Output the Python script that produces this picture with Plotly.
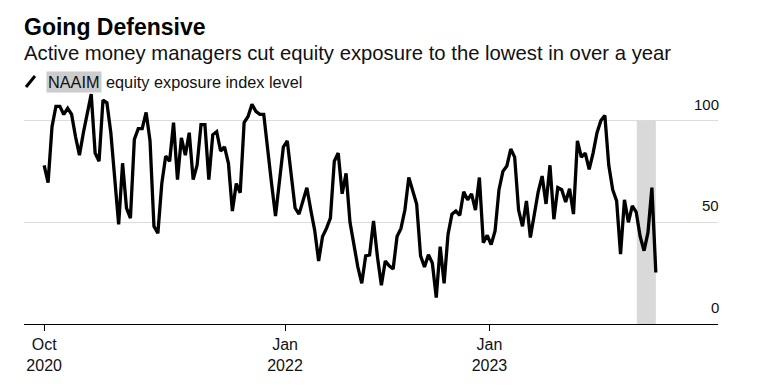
import pandas as pd
import plotly.graph_objects as go

# ---- data (weekly NAAIM exposure index readings) ----
start_date = "2020-10-28"
naaim_values = [
    78, 69.5, 97, 107, 107, 103, 106, 103, 92, 83,
    94, 104, 113, 84, 80, 110, 108.7, 94, 71, 49,
    79, 57, 52, 90.7, 96, 96, 104, 90, 48, 44.6,
    69, 82.5, 80, 99, 71, 91.5, 83, 94, 71, 78,
    98, 98, 71, 93, 94.5, 85, 87, 79, 55.5, 69,
    64.5, 99, 102, 108, 104.5, 103, 103, 85, 69, 53,
    70, 87, 90, 74, 57, 54, 60, 67, 56, 46,
    31, 43, 47, 52, 80, 84, 64, 74, 50, 38,
    28, 20, 33.5, 34, 50.6, 33, 19, 31, 28.6, 27,
    43, 47, 56, 72, 65, 59, 33.5, 28, 34, 30,
    13, 38, 20, 44, 54, 55.5, 53.4, 65, 61, 64,
    56, 72, 40, 43.6, 39, 45.7, 66, 75, 77.6, 86,
    82, 56, 48, 60.5, 42.5, 54, 65, 72.7, 59, 78,
    51.5, 67, 66, 60, 66.5, 54, 90, 82, 84, 76,
    84, 94, 100, 102.5, 78, 66, 60.5, 34.3, 61, 50,
    58, 55, 43, 36, 45, 67, 25.3,
]
dates = pd.date_range(start=start_date, periods=len(naaim_values), freq="7D")

tick_dates = ["2020-10-28", "2022-01-01", "2023-01-01"]
tick_labels = ["Oct<br>2020", "Jan<br>2022", "Jan<br>2023"]
y_ticks = [0, 50, 100]
y_tick_labels = ["0", "50", "100"]

highlight_start = "2023-09-21"
highlight_end = dates[-1]

title = "Going Defensive"
subtitle = "Active money managers cut equity exposure to the lowest in over a year"
legend_key = "NAAIM"
legend_rest = "equity exposure index level"

FONT = "Liberation Sans, Arial, sans-serif"

fig = go.Figure()
fig.add_trace(go.Scatter(
    x=dates, y=naaim_values, mode="lines",
    line=dict(color="#000000", width=3.3),
    hoverinfo="skip", showlegend=False,
))

# highlighted recent period
fig.add_shape(type="rect", xref="x", yref="y",
              x0=highlight_start, x1=highlight_end, y0=0, y1=100,
              fillcolor="#d9d9d9", line=dict(width=0), layer="between")

# page pixel -> paper coordinates (page has an 8px body margin)
W, H = 694.0, 234.0
def px(xp):
    return (xp - 24) / W
def py(yp):
    return (324 - yp) / H

# legend icon (slash)
fig.add_shape(type="line", xref="paper", yref="paper",
              x0=px(26), y0=py(87), x1=px(35), y1=py(76),
              line=dict(color="#000000", width=3))

annotations = [
    dict(text=f"<b>{title}</b>", x=px(22), y=py(27), xref="paper", yref="paper",
         xanchor="left", yanchor="middle", showarrow=False,
         font=dict(family=FONT, size=23, color="#000000")),
    dict(text=subtitle, x=px(22), y=py(53), xref="paper", yref="paper",
         xanchor="left", yanchor="middle", showarrow=False,
         font=dict(family=FONT, size=20.3, color="#111111")),
    dict(text=legend_key, x=px(46), y=py(82), xref="paper", yref="paper",
         xanchor="left", yanchor="middle", showarrow=False,
         bgcolor="#cccccc", borderpad=1,
         font=dict(family=FONT, size=16.3, color="#111111")),
    dict(text=legend_rest, x=px(104), y=py(82), xref="paper", yref="paper",
         xanchor="left", yanchor="middle", showarrow=False,
         font=dict(family=FONT, size=16.3, color="#111111")),
]
for v, lab in zip(y_ticks, y_tick_labels):
    annotations.append(dict(
        text=lab, x=1, y=v, xref="paper", yref="y",
        xanchor="right", yanchor="bottom", yshift=6, xshift=3, showarrow=False,
        font=dict(family=FONT, size=15, color="#111111")))

fig.update_layout(
    width=768, height=385,
    margin=dict(l=16, r=58, t=82, b=69),
    paper_bgcolor="#ffffff", plot_bgcolor="#ffffff",
    font=dict(family=FONT, color="#111111"),
    annotations=annotations,
    showlegend=False,
)
fig.update_xaxes(
    type="date", range=["2020-09-22", "2024-02-13"],
    tickvals=tick_dates, ticktext=tick_labels,
    ticks="outside", ticklen=6, tickcolor="#000000", tickwidth=1,
    showline=True, linecolor="#000000", linewidth=1,
    showgrid=False, zeroline=False,
    tickfont=dict(family=FONT, size=16, color="#111111"),
)
fig.update_yaxes(
    range=[0, 115], tickvals=[50, 100], showticklabels=False,
    showgrid=True, gridcolor="#dcdcdc", gridwidth=1,
    zeroline=False, showline=False, ticks="",
)

fig.write_html("out.html")
